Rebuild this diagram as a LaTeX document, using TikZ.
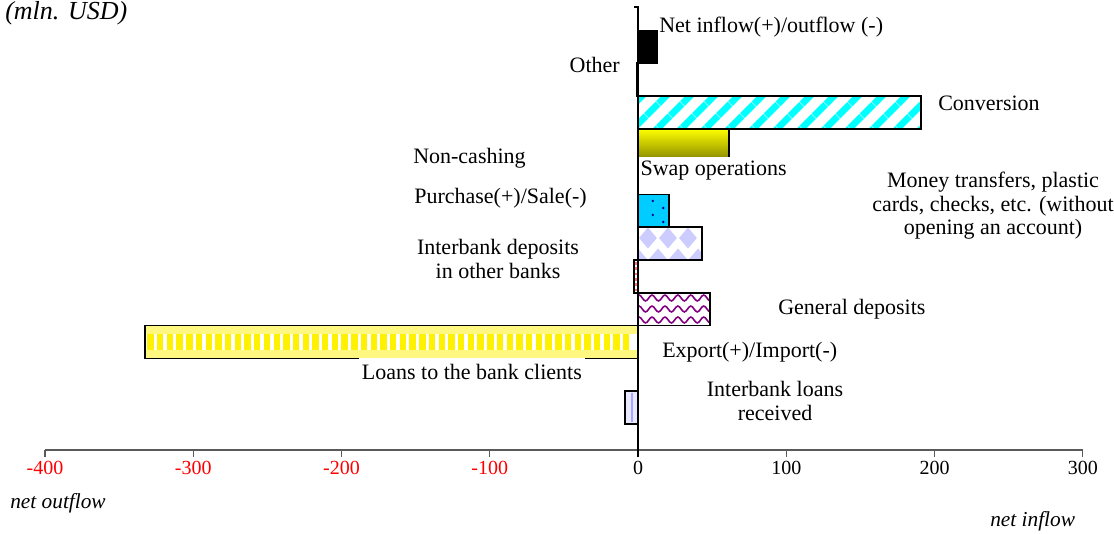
\documentclass[tikz,border=0pt]{standalone}
\usepackage{fontspec}
\setmainfont{Liberation Serif}
\usetikzlibrary{
  patterns.meta,
  decorations.pathmorphing
}
\definecolor{stripecyan}{RGB}{0,255,255}
\definecolor{skyfill}{RGB}{0,204,255}
\definecolor{olivebot}{RGB}{128,128,0}
\definecolor{lavender}{RGB}{204,204,255}
\definecolor{wavepurple}{RGB}{128,0,128}
\definecolor{axisgray}{RGB}{90,90,90}

\begin{document}
\begin{tikzpicture}[x=0.75pt, y=-0.75pt,
    every node/.style={font=\fontsize{16.5}{17.6}\selectfont, inner sep=0pt},
    bar/.style={line width=1.2pt, draw=black},
    ticklbl/.style={font=\fontsize{15}{15}\selectfont, anchor=north},
    sidenote/.style={font=\fontsize{16}{16}\selectfont\itshape, anchor=west}]
\useasboundingbox (0,0) rectangle (1114,534);

% bars: x in mln. USD, y in px
\begin{scope}[shift={(638,0)}, x=1.1119pt]
    % Net inflow/outflow
    \draw[bar, fill=black] (0,30.5) rectangle (12.8,63.3);

    % Other
    \draw[bar, fill=white] (-1,63.3) rectangle (0,96.1);

    % Conversion
    \draw[bar, pattern={Lines[angle=45, distance=13pt, line width=5.5pt]},
          pattern color=stripecyan] (0,96.1) rectangle (190.9,128.9);

    % Non-cashing
    \draw[bar, top color=yellow, middle color=yellow!90!olivebot,
          bottom color=olivebot] (0,128.9) rectangle (61.4,161.7);

    % Swap
    \draw[bar, fill=white] (-0.4,161.7) rectangle (0,194.5);

    % Purchase/Sale
    \draw[bar, fill=skyfill] (0,194.5) rectangle (20.9,227.3);
    \foreach \dx/\dy in {10/201, 17/208, 10/215, 17/222}
        \fill[blue!60!black] (\dx,\dy) circle (1pt);

    % Money transfers
    \begin{scope}
        \clip (0,227.3) rectangle (43.2,260.1);
        \foreach \cx/\cy in {6.7/238, 20.2/238, 33.7/238,
                             13.5/217, 27/217, 40.5/217,
                             13.5/259, 27/259, 40.5/259, 0/259}
            \fill[lavender] (\cx,\cy) +(-6,0) -- +(0,-10.5) -- +(6,0) -- +(0,10.5) -- cycle;
    \end{scope}
    \draw[bar] (0,227.3) rectangle (43.2,260.1);

    % Interbank deposits
    \draw[bar, fill=white] (-2.7,260.1) rectangle (0,292.9);
    \draw[red!55, line width=1pt, dash pattern=on 2pt off 2pt] (-1.35,262) -- (-1.35,291);

    % General deposits
    \begin{scope}
        \clip (0,292.9) rectangle (48.6,325.7);
        \foreach \wy in {298,309,320}
            \draw[wavepurple, line width=1.2pt, decorate,
                  decoration={snake, amplitude=2.2pt, segment length=9.7pt}]
                  (-2,\wy) -- (52,\wy);
    \end{scope}
    \draw[bar] (0,292.9) rectangle (48.6,325.7);

    % Loans
    \fill[yellow!50] (-332.5,325.7) rectangle (0,358.5);
    \fill[white] (-332.5,334.5) rectangle (0,350);
    \foreach \bx in {-331,-324.45,...,-4}
        \fill[yellow] (\bx,334.5) rectangle ++(4.3,15.5);
    \draw[bar] (-332.5,325.7) rectangle (0,358.5);

    % Interbank loans
    \draw[bar, fill=lavender!45] (-8.8,391.3) rectangle (0,424.1);
    \draw[blue!35, line width=1.5pt] (-4,393) -- (-4,422);

    % Axes
    \draw[axisgray, line width=0.8pt] (-400,450) -- (300,450);
    \foreach \t in {-400,-300,...,300}
        \draw[axisgray, line width=0.8pt] (\t,450) -- (\t,457);
    \draw[line width=0.8pt] (-2.5,7) -- (0,7) -- (0,457);

    \foreach \t [count=\i] in {-400,-300,-200,-100}
        \node[ticklbl, text=red] (neg\i) at (\t,460.5) {\t};
    \foreach \t [count=\i] in {0,100,200,300}
        \node[ticklbl] (pos\i) at (\t,460.5) {\t};
\end{scope}

% Labels
\node[anchor=base west, font=\fontsize{19.5}{19.5}\selectfont\itshape] (unit) at (5,20) {(mln. USD)};
\node[anchor=west] (netlbl) at (659,27) {Net inflow(+)/outflow (-)};
\node[anchor=east] (otherlbl) at (620,65) {Other};
\node[anchor=west] (convlbl) at (938,103) {Conversion};
\node[anchor=west] (noncashlbl) at (413,158) {Non-cashing};
\node[anchor=west, fill=white, inner xsep=1pt, inner ysep=3pt] (swaplbl) at (639,171) {Swap operations};
\node[align=center] (moneylbl) at (993,206) {Money transfers, plastic\\cards, checks, etc. (without\\opening an account)};
\node[anchor=west] (purchlbl) at (414,198) {Purchase(+)/Sale(-)};
\node[align=center] (ibdeplbl) at (498,259) {Interbank deposits\\in other banks};
\node[anchor=west] (gendeplbl) at (778,309) {General deposits};
\node[anchor=west] (exportlbl) at (662,352) {Export(+)/Import(-)};
\node[anchor=west, fill=white, inner xsep=2pt, inner ysep=4.5pt] (loanslbl) at (359,372) {Loans to the bank clients\hspace{18pt}};
\node[align=center] (ibloanlbl) at (775,401) {Interbank loans\\received};

\node[sidenote] (outlbl) at (10,503) {net outflow};
\node[sidenote] (inlbl) at (990,521) {net inflow};
\end{tikzpicture}
\end{document}
